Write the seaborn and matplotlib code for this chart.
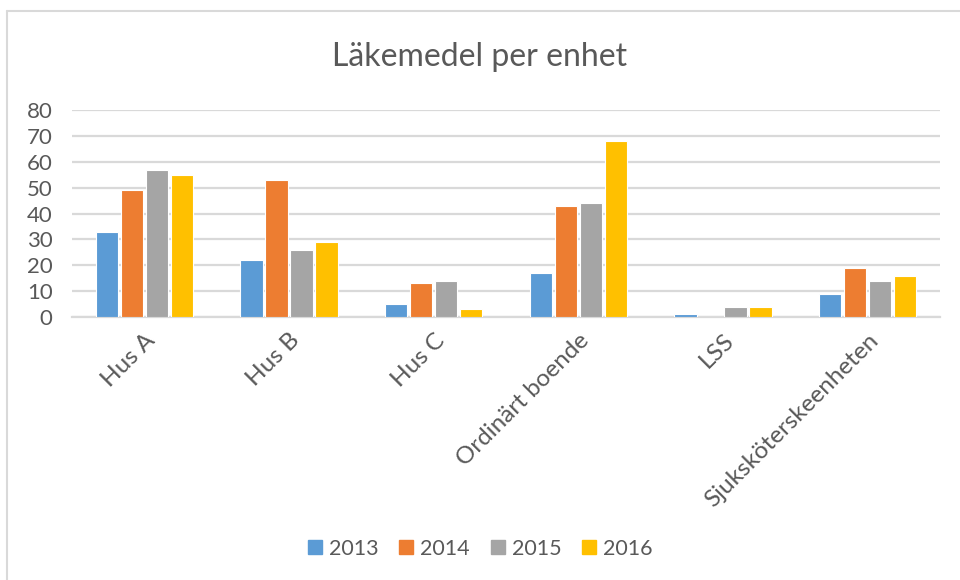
import matplotlib
matplotlib.use("Agg")
import matplotlib.pyplot as plt
import seaborn as sns
import pandas as pd
from matplotlib.lines import Line2D

categories = ["Hus A", "Hus B", "Hus C", "Ordinärt boende", "LSS", "Sjuksköterskeenheten"]
years = ["2013", "2014", "2015", "2016"]
v2013 = [33, 22, 5, 17, 1, 9]
v2014 = [49, 53, 13, 43, 0, 19]
v2015 = [57, 26, 14, 44, 4, 14]
v2016 = [55, 29, 3, 68, 4, 16]
yticks = [0, 10, 20, 30, 40, 50, 60, 70, 80]
colors = ["#5B9BD5", "#ED7D31", "#A5A5A5", "#FFC000"]

rows = []
for yr, vals in zip(years, [v2013, v2014, v2015, v2016]):
    for c, v in zip(categories, vals):
        rows.append({"Enhet": c, "År": yr, "Värde": v})
df = pd.DataFrame(rows)

sns.set_theme(style="white")
plt.rcParams["font.family"] = ["Lato", "DejaVu Sans"]
txt = "#595959"

fig = plt.figure(figsize=(9.6, 5.8), dpi=100)
ax = fig.add_axes([72/960, 1-317/580, (940-72)/960, (317-110)/580])

sns.barplot(data=df, x="Enhet", y="Värde", hue="År", order=categories,
            hue_order=years, palette=colors, saturation=1, width=0.69, gap=0.1,
            edgecolor="white", linewidth=0.8, ax=ax, legend=False, zorder=3)

ax.set_ylim(0, 80)
ax.set_yticks(yticks)
ax.set_yticklabels([str(t) for t in yticks], fontsize=16, color=txt)
ax.yaxis.grid(True, color="#D9D9D9", linewidth=1.6, zorder=0)
ax.set_axisbelow(True)
for s in ["top", "right", "left"]:
    ax.spines[s].set_visible(False)
ax.spines["bottom"].set_color("#D9D9D9")
ax.spines["bottom"].set_linewidth(1.6)
ax.tick_params(axis="both", length=0)
ax.tick_params(axis="y", pad=14)
ax.set_xlabel("")
ax.set_ylabel("")
ax.set_xticks(range(len(categories)))
ax.set_xticklabels(categories, rotation=45, ha="right", rotation_mode="anchor",
                   fontsize=17.5, color=txt)
ax.tick_params(axis="x", pad=9)

fig.text(0.5, 1-57/580, "Läkemedel per enhet", ha="center", va="center",
         fontsize=23, color=txt)

handles = [Line2D([0], [0], marker="s", linestyle="", markersize=10,
                  markerfacecolor=c, markeredgecolor=c) for c in colors]
fig.legend(handles, years, loc="center", bbox_to_anchor=(0.5, 1-549/580),
           ncol=4, frameon=False, fontsize=15.5, handletextpad=0.3,
           handlelength=0.7, columnspacing=0.95, labelcolor=txt)

# chart frame
fig.add_artist(Line2D([7/960, 7/960], [0, 1-11/580], color="#D9D9D9",
                      linewidth=1.5, transform=fig.transFigure))
fig.add_artist(Line2D([7/960, 1], [1-11/580, 1-11/580], color="#D9D9D9",
                      linewidth=1.5, transform=fig.transFigure))

fig.savefig("out.png", dpi=100, facecolor="white")
